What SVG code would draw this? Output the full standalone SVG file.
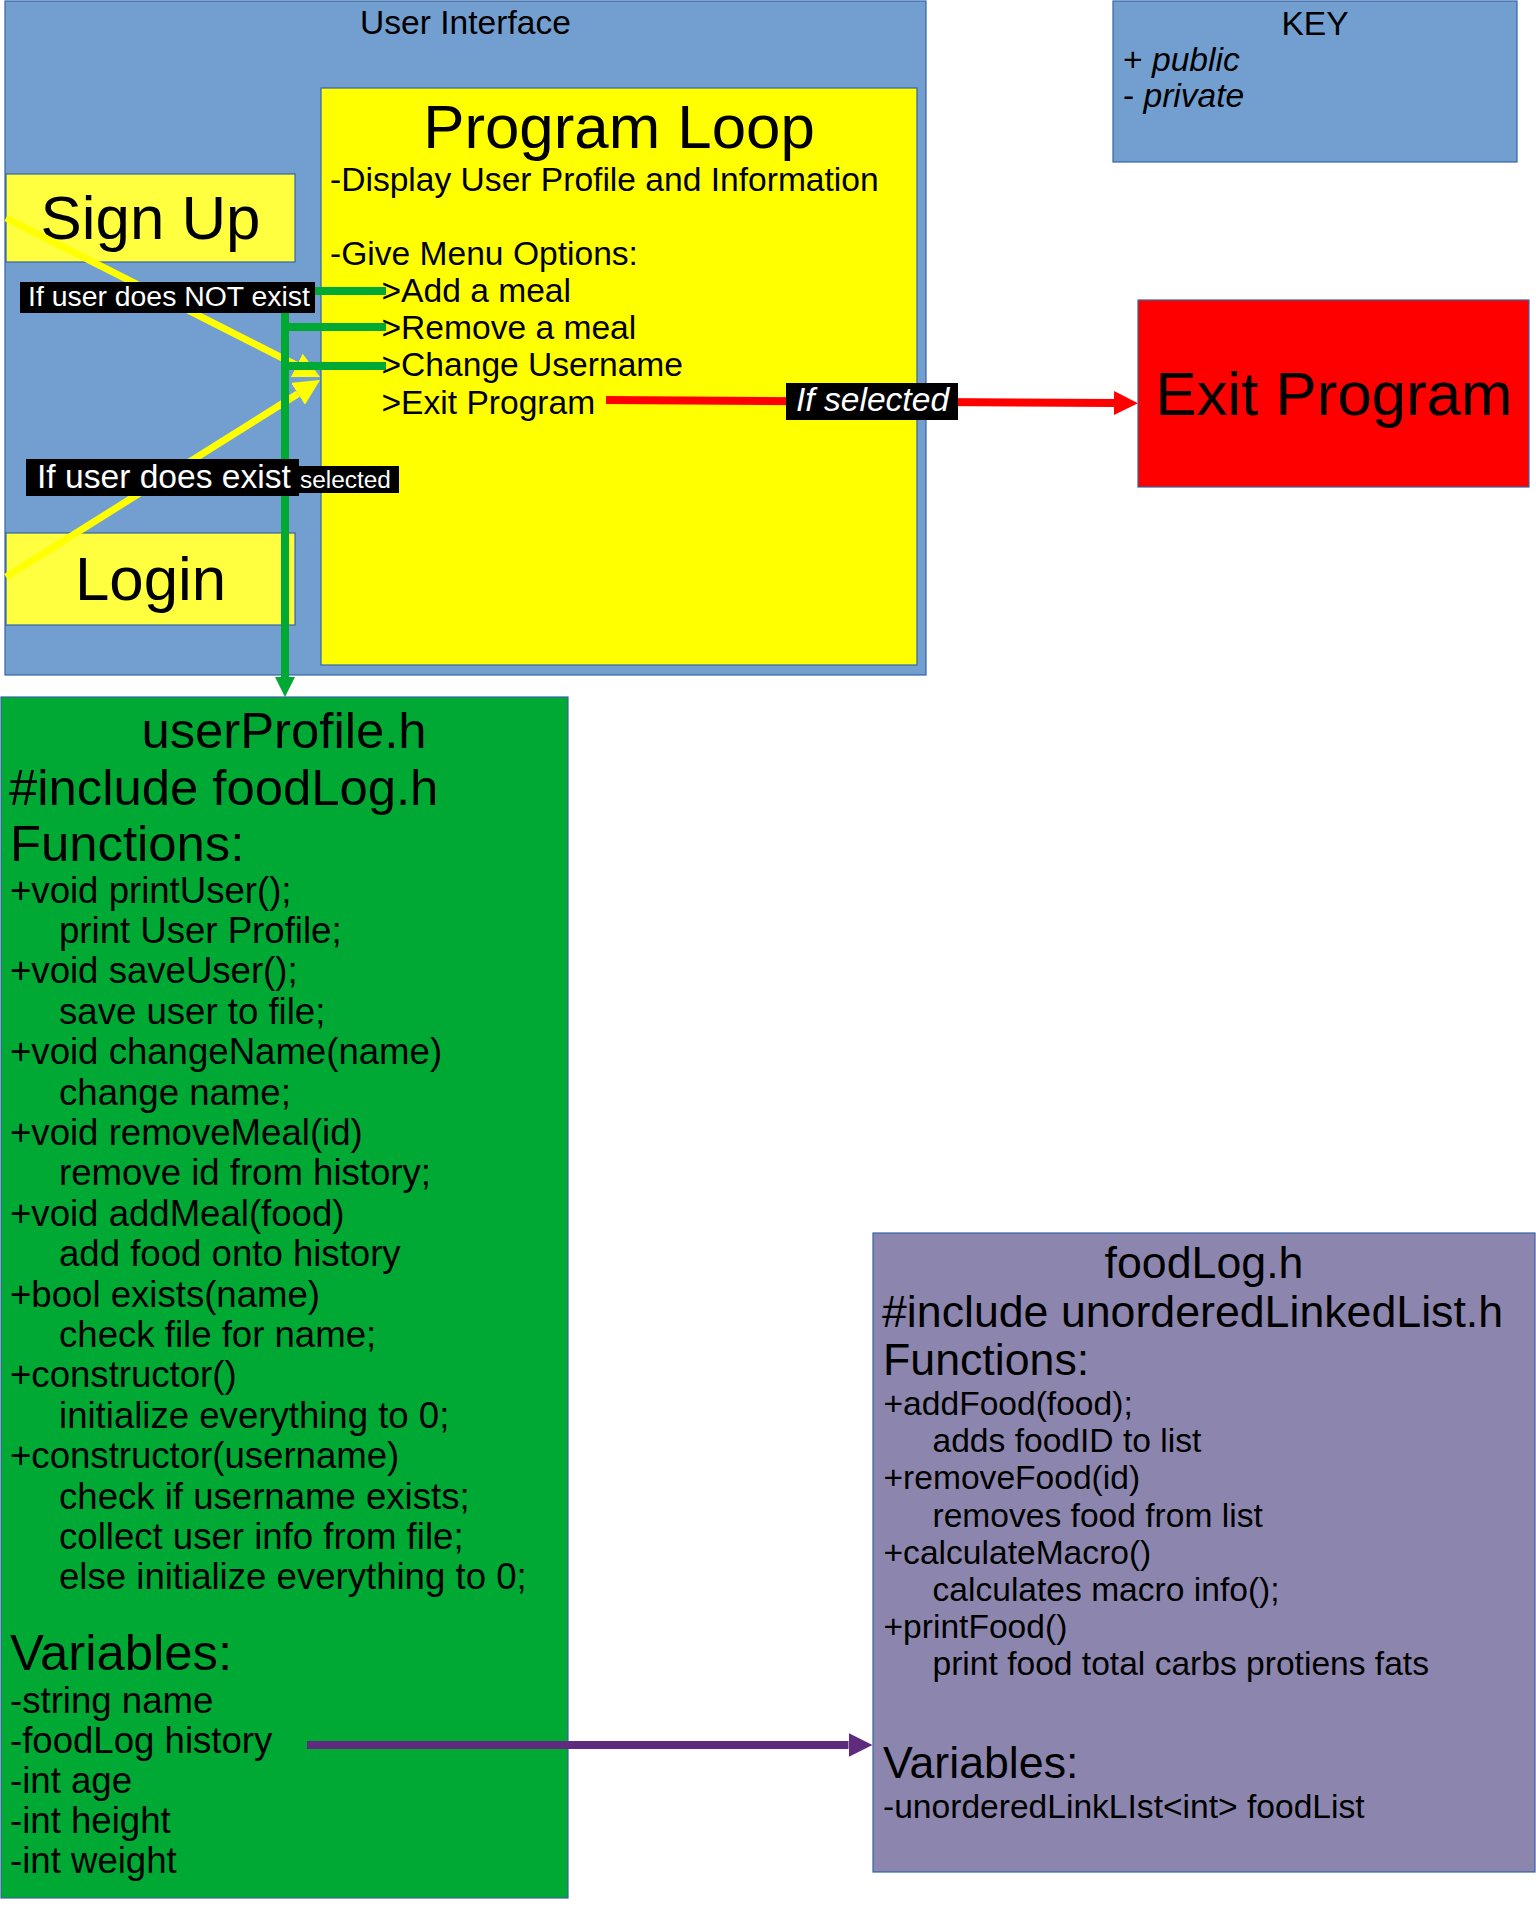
<svg xmlns="http://www.w3.org/2000/svg" width="1536" height="1920" viewBox="0 0 1536 1920">
<defs>
<style>
text{font-family:"Liberation Sans",Arial,sans-serif;fill:#000}
.box{stroke:#3465a4;stroke-width:1.2}
.blue{fill:#729fcf}
.yel{fill:#ffff00}
.lyel{fill:#ffff40}
.grn{fill:#00a933}
.pur{fill:#8c86ae}
.red{fill:#ff0000}
.t33{font-size:33.6px}
.t36{font-size:36.6px}
.t44{font-size:44.7px}
.t50{font-size:50.8px}
.t61{font-size:61.8px}
.mid{text-anchor:middle}
.it{font-style:italic}
.lbl{fill:#000}
.wt{fill:#fff}
.cy{stroke:#ffff00;stroke-width:7;fill:none}
.cg{stroke:#00a933;stroke-width:8;fill:none}
.cr{stroke:#ff0000;stroke-width:8;fill:none}
.cp{stroke:#5e2b7e;stroke-width:8;fill:none}
</style>
<marker id="ay" markerUnits="userSpaceOnUse" viewBox="0 -13 27 26" refX="0" refY="0" markerWidth="27" markerHeight="26" orient="auto"><path d="M0,-13 L26,0 L0,13 z" fill="#ffff00"/></marker>
<marker id="ag" markerUnits="userSpaceOnUse" viewBox="0 -11 22 22" refX="0" refY="0" markerWidth="22" markerHeight="22" orient="auto"><path d="M0,-10 L20,0 L0,10 z" fill="#00a933"/></marker>
<marker id="ar" markerUnits="userSpaceOnUse" viewBox="0 -12 25 24" refX="0" refY="0" markerWidth="25" markerHeight="24" orient="auto"><path d="M0,-12 L24,0 L0,12 z" fill="#ff0000"/></marker>
<marker id="ap" markerUnits="userSpaceOnUse" viewBox="0 -12 25 24" refX="0" refY="0" markerWidth="25" markerHeight="24" orient="auto"><path d="M0,-12 L24,0 L0,12 z" fill="#5e2b7e"/></marker>
</defs>
<rect width="1536" height="1920" fill="#fff"/>

<g id="user-interface">
<rect class="box blue" x="5" y="1" width="921" height="674"/>
<text class="t33 mid" x="465.5" y="34">User Interface</text>
</g>

<g id="program-loop">
<rect class="box yel" x="321" y="88" width="596" height="577"/>
<text class="t61 mid" x="619" y="148">Program Loop</text>
<text class="t33" x="330" y="191">-Display User Profile and Information</text>
<text class="t33" x="330" y="265">-Give Menu Options:</text>
<text class="t33" x="381.5" y="302">&gt;Add a meal</text>
<text class="t33" x="381.5" y="339">&gt;Remove a meal</text>
<text class="t33" x="381.5" y="376">&gt;Change Username</text>
<text class="t33" x="381.5" y="413.5">&gt;Exit Program</text>
</g>

<g id="sign-up">
<rect class="box lyel" x="6" y="174" width="289" height="88"/>
<text class="t61 mid" x="150.5" y="239">Sign Up</text>
</g>

<g id="login">
<rect class="box lyel" x="6" y="533" width="289" height="92"/>
<text class="t61 mid" x="150.5" y="600">Login</text>
</g>

<g id="key">
<rect class="box blue" x="1113" y="1" width="404" height="161"/>
<text class="t33 mid" x="1315" y="35">KEY</text>
<text class="t33" x="1123" y="71">+ <tspan class="it">public</tspan></text>
<text class="t33" x="1123" y="107">- <tspan class="it">private</tspan></text>
</g>

<g id="exit-program">
<rect class="box red" x="1138" y="300" width="391" height="187"/>
<text class="t61 mid" x="1334" y="415">Exit Program</text>
</g>

<g id="user-profile">
<rect class="box grn" x="1" y="697" width="567" height="1201"/>
<text class="t50 mid" x="284" y="748">userProfile.h</text>
<text class="t50" x="9" y="804.5">#include foodLog.h</text>
<text class="t50" x="10" y="860.5">Functions:</text>
<g class="t36">
<text x="10" y="902.5">+void printUser();</text>
<text x="59" y="942.9">print User Profile;</text>
<text x="10" y="983.3">+void saveUser();</text>
<text x="59" y="1023.7">save user to file;</text>
<text x="10" y="1064.1">+void changeName(name)</text>
<text x="59" y="1104.5">change name;</text>
<text x="10" y="1144.9">+void removeMeal(id)</text>
<text x="59" y="1185.3">remove id from history;</text>
<text x="10" y="1225.7">+void addMeal(food)</text>
<text x="59" y="1266.1">add food onto history</text>
<text x="10" y="1306.5">+bool exists(name)</text>
<text x="59" y="1346.9">check file for name;</text>
<text x="10" y="1387.3">+constructor()</text>
<text x="59" y="1427.7">initialize everything to 0;</text>
<text x="10" y="1468.1">+constructor(username)</text>
<text x="59" y="1508.5">check if username exists;</text>
<text x="59" y="1548.9">collect user info from file;</text>
<text x="59" y="1589.3">else initialize everything to 0;</text>
</g>
<text class="t50" x="10" y="1670">Variables:</text>
<g class="t36">
<text x="10" y="1713">-string name</text>
<text x="10" y="1753">-foodLog history</text>
<text x="10" y="1793">-int age</text>
<text x="10" y="1833">-int height</text>
<text x="10" y="1873">-int weight</text>
</g>
</g>

<g id="food-log">
<rect class="box pur" x="873" y="1233" width="662" height="639"/>
<text class="t44 mid" x="1204" y="1278.3">foodLog.h</text>
<text class="t44" x="882" y="1326.7">#include unorderedLinkedList.h</text>
<text class="t44" x="883" y="1375">Functions:</text>
<g class="t33">
<text x="883.5" y="1415">+addFood(food);</text>
<text x="932.5" y="1452.2">adds foodID to list</text>
<text x="883.5" y="1489.4">+removeFood(id)</text>
<text x="932.5" y="1526.6">removes food from list</text>
<text x="883.5" y="1563.8">+calculateMacro()</text>
<text x="932.5" y="1601">calculates macro info();</text>
<text x="883.5" y="1638.2">+printFood()</text>
<text x="932.5" y="1675.4">print food total carbs protiens fats</text>
</g>
<text class="t44" x="883" y="1778">Variables:</text>
<text class="t33" x="883" y="1818">-unorderedLinkLIst&lt;int&gt; foodList</text>
</g>

<g id="connectors">
<line class="cy" x1="6" y1="218" x2="296.8" y2="365.3" marker-end="url(#ay)"/>
<line class="cy" x1="6" y1="577" x2="298" y2="393.8" marker-end="url(#ay)"/>
<path class="cg" d="M386,291 H285 V677" marker-end="url(#ag)"/>
<path class="cg" d="M285,327 H386"/>
<path class="cg" d="M285,366 H386"/>
<line class="cr" x1="606" y1="400" x2="1114" y2="403" marker-end="url(#ar)"/>
<line class="cp" x1="307" y1="1745" x2="848.5" y2="1745" marker-end="url(#ap)"/>
</g>

<g id="label-not-exist">
<rect class="lbl" x="20" y="282" width="295" height="31"/>
<text class="wt" x="28" y="306" font-size="28.4">If user does NOT exist</text>
</g>
<g id="label-does-exist">
<rect class="lbl" x="26" y="459" width="273" height="37"/>
<text class="wt t33" x="37" y="488">If user does exist</text>
<rect class="lbl" x="299" y="466" width="100" height="27"/>
<text class="wt" x="300" y="488" font-size="24.4">selected</text>
</g>
<g id="label-if-selected">
<rect class="lbl" x="786" y="383" width="172" height="37"/>
<text class="wt t33 it" x="796" y="411">If selected</text>
</g>
</svg>
